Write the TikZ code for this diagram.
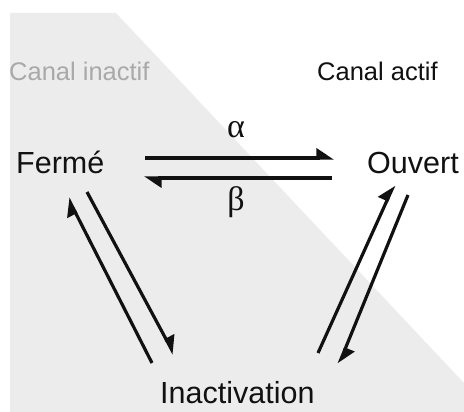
\documentclass[tikz,border=0pt]{standalone}
\usepackage{fontspec}
\setmainfont{Liberation Sans}
\newfontfamily\greekfont{Liberation Serif}
\usetikzlibrary{arrows.meta}
\definecolor{bggray}{HTML}{ECECEC}
\definecolor{labgray}{HTML}{A9A9A9}
\definecolor{ink}{HTML}{111111}
\begin{document}
\begin{tikzpicture}[x=1pt,y=-1pt,
  state/.style={inner sep=0pt, anchor=base west, text=ink, font=\fontsize{30.5}{36}\selectfont},
  region/.style={inner sep=0pt, anchor=base west, font=\fontsize{25.5}{30}\selectfont},
  rate/.style={inner sep=0pt, anchor=base, text=ink, font=\greekfont\fontsize{34}{40}\selectfont},
  conn/.style={line width=3.2pt, draw=ink, -{Triangle[harpoon,length=15pt,width=19pt]}}]
\useasboundingbox (0,0) rectangle (464,412);
\fill[bggray] (10,13) -- (116,13) -- (464,383) -- (464,412) -- (10,412) -- cycle;
% labels
\node[region, text=labgray] (inactif) at (9,81) {Canal inactif};
\node[region, text=ink] (actif) at (317,81) {Canal actif};
\node[state] (ferme) at (16,173) {Fermé};
\node[state] (ouvert) at (367,174) {Ouvert};
\node[state] (inact) at (160,403) {Inactivation};
\node[rate] (alpha) at (236,138) {α};
\node[rate] (beta) at (236,211) {β};
% connector end points
\coordinate (fo1) at (145,158);
\coordinate (fo2) at (334,158);
\coordinate (of1) at (332,178);
\coordinate (of2) at (144,178);
\coordinate (if1) at (152,363);
\coordinate (if2) at (68,198);
\coordinate (fi1) at (87,192);
\coordinate (fi2) at (174,354);
\coordinate (io1) at (318,353);
\coordinate (io2) at (394,185);
\coordinate (oi1) at (408,195);
\coordinate (oi2) at (339,364);
\draw[conn] (fo1) -- (fo2);
\draw[conn] (of1) -- (of2);
\draw[conn] (if1) -- (if2);
\draw[conn] (fi1) -- (fi2);
\draw[conn] (io1) -- (io2);
\draw[conn] (oi1) -- (oi2);
\end{tikzpicture}
\end{document}
